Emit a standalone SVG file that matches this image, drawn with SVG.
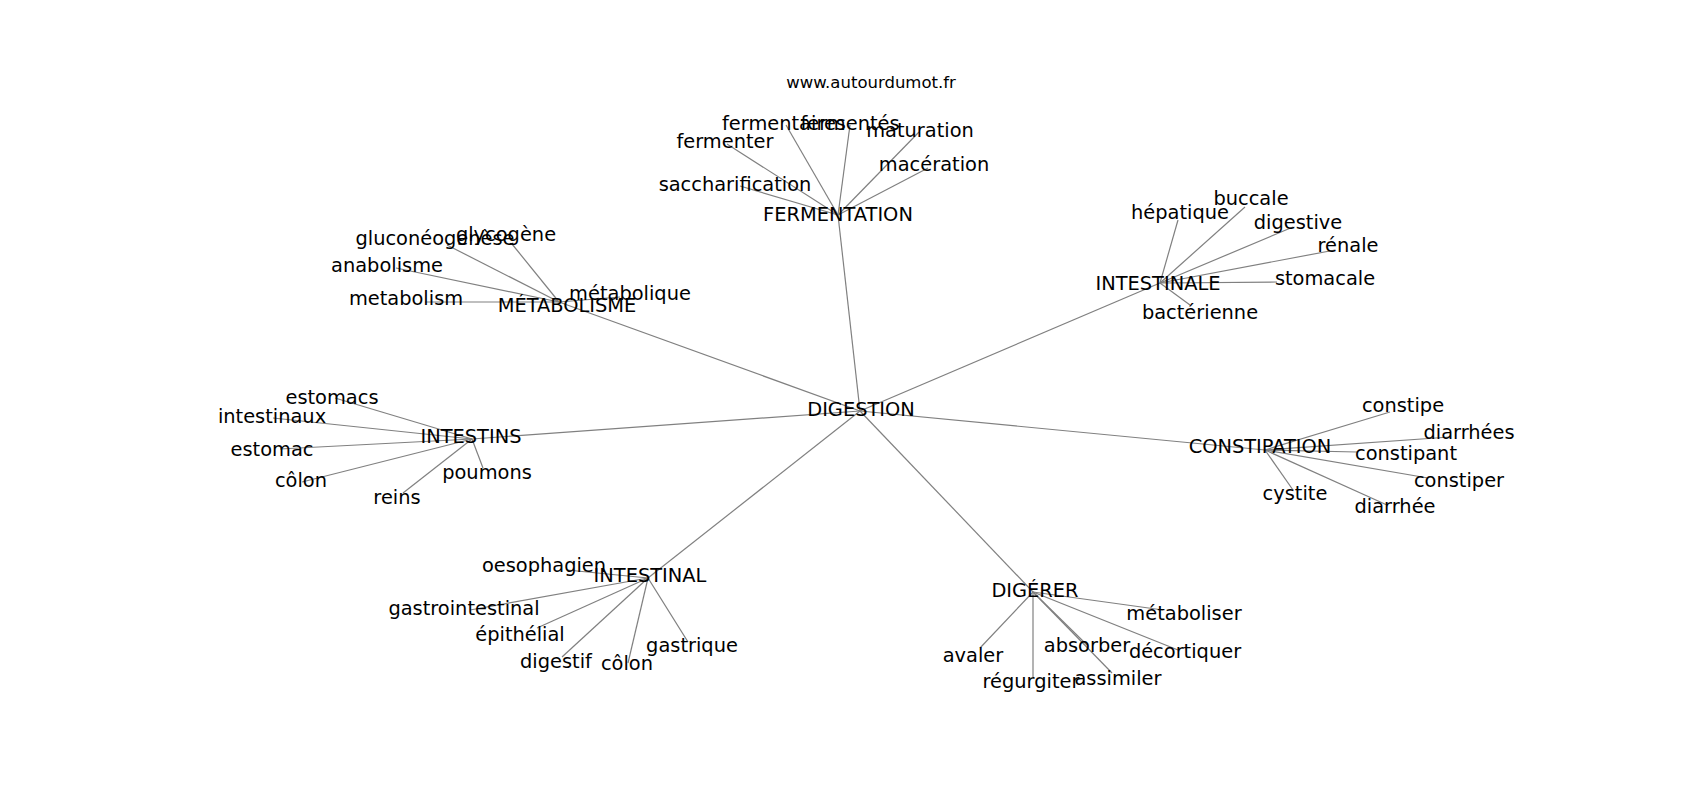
<svg xmlns="http://www.w3.org/2000/svg" width="1700" height="800" viewBox="0 0 1700 800">
<style>
.e line{stroke:#808080;stroke-width:1.2;fill:none}
.n text{font-family:"DejaVu Sans",sans-serif;font-size:19.4px;fill:#000;text-anchor:middle}
.t{font-family:"DejaVu Sans",sans-serif;font-size:16.5px;fill:#000;text-anchor:middle}
</style>
<rect width="1700" height="800" fill="#fff"/>
<text class="t" x="871" y="88">www.autourdumot.fr</text>
<g class="e" id="edges">
<line x1="860" y1="411" x2="838" y2="215"/>
<line x1="860" y1="411" x2="559" y2="302"/>
<line x1="860" y1="411" x2="1160" y2="283"/>
<line x1="860" y1="411" x2="472" y2="439"/>
<line x1="860" y1="411" x2="1265" y2="450"/>
<line x1="860" y1="411" x2="648" y2="578"/>
<line x1="860" y1="411" x2="1033" y2="592"/>
<line x1="838" y1="215" x2="786" y2="125"/>
<line x1="838" y1="215" x2="850" y2="125"/>
<line x1="838" y1="215" x2="919" y2="132"/>
<line x1="838" y1="215" x2="727" y2="144"/>
<line x1="838" y1="215" x2="928" y2="168"/>
<line x1="838" y1="215" x2="740" y2="186"/>
<line x1="559" y1="302" x2="447" y2="245"/>
<line x1="559" y1="302" x2="512" y2="244"/>
<line x1="559" y1="302" x2="396" y2="268"/>
<line x1="559" y1="302" x2="425" y2="302"/>
<line x1="559" y1="302" x2="620" y2="297"/>
<line x1="1160" y1="283" x2="1178" y2="220"/>
<line x1="1160" y1="283" x2="1245" y2="207"/>
<line x1="1160" y1="283" x2="1293" y2="227"/>
<line x1="1160" y1="283" x2="1335" y2="250"/>
<line x1="1160" y1="283" x2="1277" y2="282"/>
<line x1="1160" y1="283" x2="1190" y2="305"/>
<line x1="472" y1="439" x2="335" y2="398"/>
<line x1="472" y1="439" x2="273" y2="418"/>
<line x1="472" y1="439" x2="280" y2="449"/>
<line x1="472" y1="439" x2="302" y2="482"/>
<line x1="472" y1="439" x2="403" y2="493"/>
<line x1="472" y1="439" x2="483" y2="468"/>
<line x1="1265" y1="450" x2="1390" y2="412"/>
<line x1="1265" y1="450" x2="1450" y2="437"/>
<line x1="1265" y1="450" x2="1357" y2="452"/>
<line x1="1265" y1="450" x2="1428" y2="478"/>
<line x1="1265" y1="450" x2="1293" y2="490"/>
<line x1="1265" y1="450" x2="1387" y2="505"/>
<line x1="648" y1="578" x2="567" y2="570"/>
<line x1="648" y1="578" x2="470" y2="610"/>
<line x1="648" y1="578" x2="537" y2="628"/>
<line x1="648" y1="578" x2="562" y2="657"/>
<line x1="648" y1="578" x2="628" y2="663"/>
<line x1="648" y1="578" x2="688" y2="642"/>
<line x1="1033" y1="592" x2="1163" y2="610"/>
<line x1="1033" y1="592" x2="1178" y2="650"/>
<line x1="1033" y1="592" x2="1087" y2="645"/>
<line x1="1033" y1="592" x2="1112" y2="673"/>
<line x1="1033" y1="592" x2="980" y2="648"/>
<line x1="1033" y1="592" x2="1033" y2="677"/>
</g>
<g class="n">
<g id="n-digestion"><text x="861" y="416">DIGESTION</text></g>
<g id="n-fermentation"><text x="838" y="221">FERMENTATION</text></g>
<g id="n-fermentaires"><text x="784" y="130">fermentaires</text></g>
<g id="n-fermentes"><text x="850" y="130">fermentés</text></g>
<g id="n-maturation"><text x="920" y="137">maturation</text></g>
<g id="n-fermenter"><text x="725" y="148">fermenter</text></g>
<g id="n-maceration"><text x="934" y="171">macération</text></g>
<g id="n-saccharification"><text x="735" y="191">saccharification</text></g>
<g id="n-metabolisme"><text x="567" y="312">MÉTABOLISME</text></g>
<g id="n-gluconeogenese"><text x="435" y="245">gluconéogenèse</text></g>
<g id="n-glycogene"><text x="506" y="241">glycogène</text></g>
<g id="n-anabolisme"><text x="387" y="272">anabolisme</text></g>
<g id="n-metabolism"><text x="406" y="305">metabolism</text></g>
<g id="n-metabolique"><text x="630" y="300">métabolique</text></g>
<g id="n-intestinale"><text x="1158" y="290">INTESTINALE</text></g>
<g id="n-hepatique"><text x="1180" y="219">hépatique</text></g>
<g id="n-buccale"><text x="1251" y="205">buccale</text></g>
<g id="n-digestive"><text x="1298" y="229">digestive</text></g>
<g id="n-renale"><text x="1348" y="252">rénale</text></g>
<g id="n-stomacale"><text x="1325" y="285">stomacale</text></g>
<g id="n-bacterienne"><text x="1200" y="319">bactérienne</text></g>
<g id="n-intestins"><text x="471" y="443">INTESTINS</text></g>
<g id="n-estomacs"><text x="332" y="404">estomacs</text></g>
<g id="n-intestinaux"><text x="272" y="423">intestinaux</text></g>
<g id="n-estomac"><text x="272" y="456">estomac</text></g>
<g id="n-colon1"><text x="301" y="487">côlon</text></g>
<g id="n-reins"><text x="397" y="504">reins</text></g>
<g id="n-poumons"><text x="487" y="479">poumons</text></g>
<g id="n-constipation"><text x="1260" y="453">CONSTIPATION</text></g>
<g id="n-constipe"><text x="1403" y="412">constipe</text></g>
<g id="n-diarrhees"><text x="1469" y="439">diarrhées</text></g>
<g id="n-constipant"><text x="1406" y="460">constipant</text></g>
<g id="n-constiper"><text x="1459" y="487">constiper</text></g>
<g id="n-cystite"><text x="1295" y="500">cystite</text></g>
<g id="n-diarrhee"><text x="1395" y="513">diarrhée</text></g>
<g id="n-intestinal"><text x="650" y="582">INTESTINAL</text></g>
<g id="n-oesophagien"><text x="544" y="572">oesophagien</text></g>
<g id="n-gastrointestinal"><text x="464" y="615">gastrointestinal</text></g>
<g id="n-epithelial"><text x="520" y="641">épithélial</text></g>
<g id="n-digestif"><text x="556" y="668">digestif</text></g>
<g id="n-colon2"><text x="627" y="670">côlon</text></g>
<g id="n-gastrique"><text x="692" y="652">gastrique</text></g>
<g id="n-digerer"><text x="1035" y="597">DIGÉRER</text></g>
<g id="n-metaboliser"><text x="1184" y="620">métaboliser</text></g>
<g id="n-decortiquer"><text x="1185" y="658">décortiquer</text></g>
<g id="n-absorber"><text x="1087" y="652">absorber</text></g>
<g id="n-assimiler"><text x="1118" y="685">assimiler</text></g>
<g id="n-avaler"><text x="973" y="662">avaler</text></g>
<g id="n-regurgiter"><text x="1031" y="688">régurgiter</text></g>
</g>
</svg>
